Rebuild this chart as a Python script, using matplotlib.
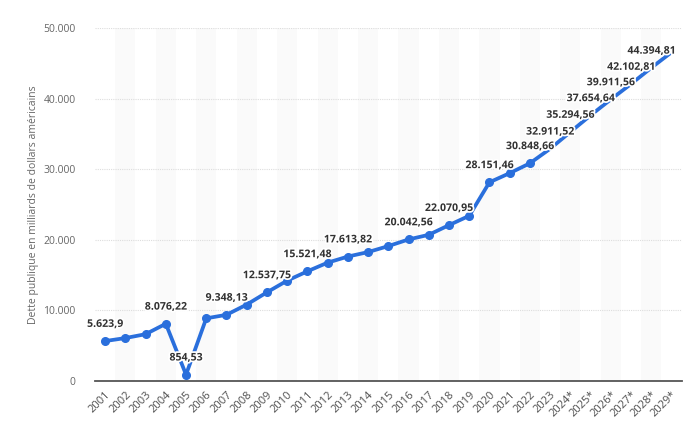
import matplotlib
matplotlib.use("Agg")
import matplotlib.pyplot as plt
import matplotlib.patheffects as pe
from matplotlib.ticker import FuncFormatter

years = list(range(2001, 2030))
tick_labels = [str(y) if y < 2024 else f"{y}*" for y in years]
values = [5623.9, 6050, 6600, 8076.22, 854.53, 8850, 9348.13, 10800, 12537.75,
          14200, 15521.48, 16750, 17613.82, 18250, 19100, 20042.56, 20700,
          22070.95, 23400, 28151.46, 29450, 30848.66, 32911.52, 35294.56,
          37654.64, 39911.56, 42102.81, 44394.81, 46600]
labels = {2001: "5.623,9", 2004: "8.076,22", 2005: "854,53", 2007: "9.348,13",
          2009: "12.537,75", 2011: "15.521,48", 2013: "17.613,82",
          2016: "20.042,56", 2018: "22.070,95", 2020: "28.151,46",
          2022: "30.848,66", 2023: "32.911,52", 2024: "35.294,56",
          2025: "37.654,64", 2026: "39.911,56", 2027: "42.102,81",
          2028: "44.394,81"}
last_marker_year = 2022

plt.rcParams['font.family'] = ['Open Sans', 'DejaVu Sans']

fig = plt.figure(figsize=(6.92, 4.29), dpi=100)
ax = fig.add_axes([0.1373, 0.1126, 0.985 - 0.1373, 0.934 - 0.1126])

for y in years:
    if y % 2 == 0:
        ax.axvspan(y - 0.5, y + 0.5, color='#fafafa', zorder=0, lw=0)

ax.set_xlim(2000.5, 2029.5)
ax.set_ylim(0, 50000)
ax.set_yticks(range(0, 50001, 10000))
ax.yaxis.set_major_formatter(FuncFormatter(lambda v, p: f"{int(v):,}".replace(",", ".")))
ax.grid(axis='y', color='#dddddd', linestyle=(0, (1, 1)), linewidth=0.8, zorder=1)
ax.set_axisbelow(True)

line_color = '#2a6fdc'
ax.plot(years, values, color=line_color, lw=2.7, zorder=3, solid_capstyle='round',
        solid_joinstyle='round')
mx = [y for y in years if y <= last_marker_year]
my = [v for y, v in zip(years, values) if y <= last_marker_year]
ax.plot(mx, my, linestyle='none', marker='o', markersize=5.5, color=line_color, zorder=4)

for y, v in zip(years, values):
    if y in labels:
        ax.annotate(labels[y], (y, v), xytext=(0, 12), textcoords='offset points',
                    ha='center', va='center', fontsize=7.6, fontweight='bold',
                    color='#333333', zorder=5,
                    path_effects=[pe.withStroke(linewidth=2.5, foreground='white')])

for s in ['top', 'right', 'left']:
    ax.spines[s].set_visible(False)
ax.spines['bottom'].set_color('#555555')
ax.spines['bottom'].set_linewidth(1.3)
ax.spines['bottom'].set_zorder(2)

ax.set_xticks(years)
ax.set_xticklabels(tick_labels, rotation=45, ha='right', va='top',
                   rotation_mode='anchor', fontsize=8, color='#4d4d4d')
ax.tick_params(axis='x', length=0, pad=6)
ax.tick_params(axis='y', length=0, pad=14, labelsize=7.5, labelcolor='#666666')

ax.set_ylabel("Dette publique en milliards de dollars américains", fontsize=7.5,
              color='#666666', labelpad=3)

fig.savefig("out.png", dpi=100, facecolor='white')
